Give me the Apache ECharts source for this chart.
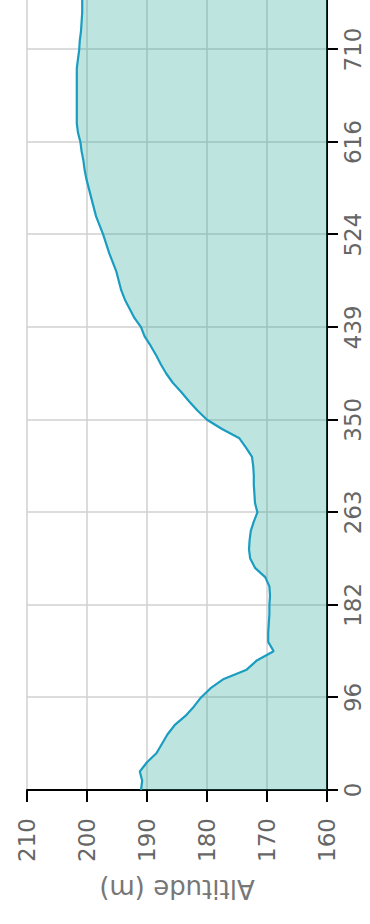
<!DOCTYPE html>
<html>
<head>
<meta charset="utf-8">
<script src="https://cdn.jsdelivr.net/npm/echarts@6/dist/echarts.min.js"></script>
<style>
html, body { margin: 0; padding: 0; width: 370px; height: 924px; overflow: hidden; background: #fff; }
#chart { position: absolute; left: 0; top: 924px; width: 930px; height: 370px; transform-origin: 0 0; transform: rotate(-90deg); }
</style>
</head>
<body>
<div id="chart"></div>
<script>
// Distance along the route (m) — category labels
const distances = [
  0, 10, 19, 29, 38, 48, 58, 67, 77, 86,
  96, 105, 113, 122, 130, 139, 148, 156, 165, 173,
  182, 190, 198, 206, 214, 222, 231, 239, 247, 255,
  263, 272, 280, 289, 298, 306, 315, 324, 333, 341,
  350, 359, 368, 377, 386, 395, 403, 412, 421, 430,
  439, 448, 456, 465, 473, 482, 490, 499, 507, 516,
  524, 533, 542, 552, 561, 570, 579, 588, 598, 607,
  616, 625, 635, 644, 654, 663, 672, 682, 691, 700,
  710, 719, 729, 738, 747, 757, 766
];
// Altitude (m)
const altitudes = [
  191.0, 190.8, 191.2, 190.0, 188.4, 187.5, 186.6, 185.4, 183.6, 182.2,
  181.0, 179.4, 177.2, 173.4, 171.7, 168.9, 169.8, 169.8, 169.7, 169.6,
  169.6, 169.5, 169.6, 170.3, 172.0, 172.8, 173.0, 172.9, 172.7, 172.2,
  171.6, 172.0, 172.1, 172.2, 172.2, 172.3, 172.5, 173.5, 174.6, 177.5,
  180.0, 181.6, 183.0, 184.3, 185.7, 186.8, 187.7, 188.5, 189.4, 190.4,
  191.0, 192.1, 192.9, 193.7, 194.3, 194.7, 195.1, 195.7, 196.3, 196.8,
  197.3, 197.9, 198.5, 198.9, 199.3, 199.7, 200.1, 200.4, 200.6, 200.9,
  201.1, 201.5, 201.7, 201.7, 201.7, 201.7, 201.7, 201.7, 201.7, 201.5,
  201.3, 201.2, 201.0, 200.9, 200.8, 200.8, 200.8
];
const altitudeMin = 160;
const altitudeMax = 210;
const altitudeStep = 10;
const axisTitle = 'Altitude (m)';

const chart = echarts.init(document.getElementById('chart'), null, { renderer: 'svg' });
const font = 'DejaVu Sans';
chart.setOption({
  animation: false,
  grid: { left: 134, right: 0, top: 27, bottom: 43, containLabel: false },
  xAxis: {
    type: 'category',
    boundaryGap: false,
    data: distances.map(String),
    axisLine: { show: true, lineStyle: { color: '#000', width: 2 } },
    axisTick: { show: true, interval: 9, length: 11, lineStyle: { color: '#000', width: 2 } },
    axisLabel: { interval: 9, margin: 14, color: '#666', fontSize: 23, fontFamily: font },
    splitLine: { show: true, interval: 9, lineStyle: { color: '#d0d0d0', width: 1.5 } }
  },
  yAxis: {
    type: 'value',
    min: altitudeMin,
    max: altitudeMax,
    interval: altitudeStep,
    name: axisTitle,
    nameLocation: 'middle',
    nameGap: 86,
    nameTextStyle: { color: '#777', fontSize: 26, fontFamily: font },
    axisLine: { show: true, lineStyle: { color: '#000', width: 2 } },
    axisTick: { show: true, length: 12, lineStyle: { color: '#000', width: 2 } },
    axisLabel: { margin: 28, color: '#666', fontSize: 23, fontFamily: font },
    splitLine: { show: true, lineStyle: { color: '#d0d0d0', width: 1.5 } }
  },
  series: [{
    type: 'line',
    data: altitudes,
    showSymbol: false,
    smooth: false,
    lineStyle: { color: '#1a9dc0', width: 2.2 },
    itemStyle: { color: '#1a9dc0' },
    areaStyle: { color: 'rgba(38,165,145,0.3)', opacity: 1, origin: 'start' }
  }]
});
</script>
</body>
</html>
